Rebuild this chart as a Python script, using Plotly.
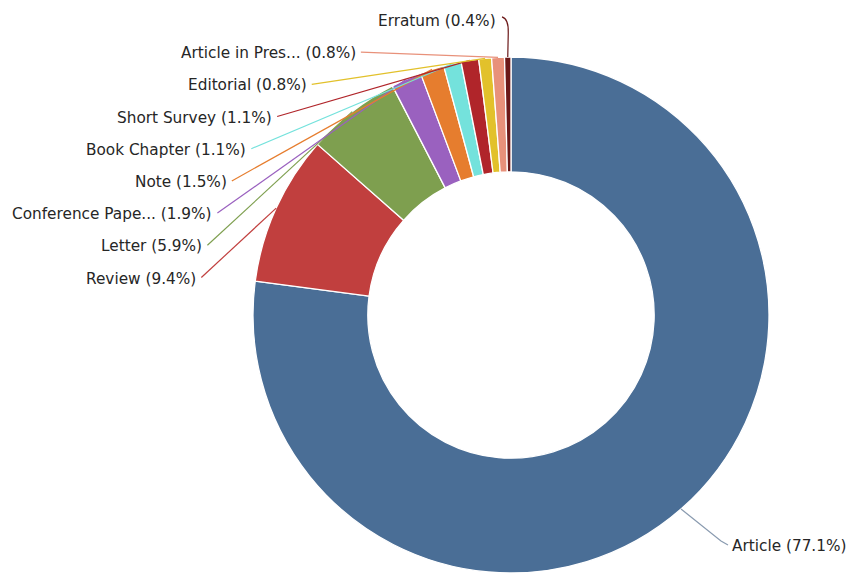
import math
import plotly.graph_objects as go

# ---- data ----
categories = ["Article", "Review", "Letter", "Conference Paper", "Note",
              "Book Chapter", "Short Survey", "Editorial", "Article in Press", "Erratum"]
display_names = ["Article", "Review", "Letter", "Conference Pape...", "Note",
                 "Book Chapter", "Short Survey", "Editorial", "Article in Pres...", "Erratum"]
shares = [77.1, 9.4, 5.9, 1.9, 1.5, 1.1, 1.1, 0.8, 0.8, 0.4]
colors = ["#4a6e96", "#c13f3e", "#7e9f4f", "#9a61bf", "#e67d2e",
          "#74e2dc", "#b0252a", "#e2c12b", "#e8917a", "#6b1818"]

# ---- layout constants (pixels) ----
W, H = 847, 573
CX, CY, R = 511.0, 315.0, 258.0
HOLE = 0.555
FONT = dict(family="DejaVu Sans", size=15.3, color="#262626")


def px(x):
    return x / W


def py(y):
    return 1 - y / H


fig = go.Figure(go.Pie(
    labels=categories, values=shares, sort=False, direction="clockwise",
    rotation=0, hole=HOLE, textinfo="none", textposition="none",
    marker=dict(colors=colors, line=dict(color="white", width=1.3)),
    domain=dict(x=[px(CX - R), px(CX + R)], y=[py(CY + R), py(CY - R)]),
    showlegend=False, hoverinfo="label+percent",
))

# slice mid points on outer edge
total = sum(shares)
cum = 0.0
edge_pts = []
for v in shares:
    mid = (cum + v / 2) / total * 2 * math.pi
    cum += v
    edge_pts.append((CX + R * math.sin(mid), CY - R * math.cos(mid)))

annotations = []
shapes = []

# left-side labels stacked from Review upward
A_ELL, B_ELL = 316.0, 300.0
STEP = 32.2
left_idx = list(range(1, len(shares)))
for k, i in enumerate(left_idx):
    ly = 278.5 - STEP * k
    dy = ly - CY
    if i == len(shares) - 1:
        ex = 497.0
    else:
        ex = CX - A_ELL * math.sqrt(max(0.0, 1 - (dy / B_ELL) ** 2))
    annotations.append(dict(
        x=px(ex), y=py(ly), xref="paper", yref="paper", xanchor="right",
        yanchor="middle", showarrow=False, font=FONT, borderpad=0,
        text=f"{display_names[i]} ({shares[i]:.1f}%)"))
    sx, sy = edge_pts[i]
    if i == len(shares) - 1:
        path = (f"M {px(ex + 5)},{py(ly - 4)} Q {px(sx + 1)},{py(ly - 2)} "
                f"{px(sx + 0.5)},{py(ly + 12)} L {px(sx)},{py(sy)}")
        shapes.append(dict(type="path", xref="paper", yref="paper", path=path,
                           line=dict(color=colors[i], width=1.2)))
    else:
        shapes.append(dict(type="line", xref="paper", yref="paper",
                           x0=px(ex + 4), y0=py(ly - 1), x1=px(sx), y1=py(sy),
                           line=dict(color=colors[i], width=1.2)))

# right-side label (Article)
lx, ly = 731.0, 546.0
annotations.append(dict(
    x=px(lx), y=py(ly), xref="paper", yref="paper", xanchor="left",
    yanchor="middle", showarrow=False, font=FONT, borderpad=0,
    text=f"{display_names[0]} ({shares[0]:.1f}%)"))
sx, sy = edge_pts[0]
path = f"M {px(sx)},{py(sy)} L {px(lx - 10)},{py(ly - 5)} L {px(lx - 3)},{py(ly - 1)}"
shapes.append(dict(type="path", xref="paper", yref="paper", path=path,
                   line=dict(color="#8a9bb0", width=1.2)))

fig.update_layout(
    width=W, height=H, margin=dict(l=0, r=0, t=0, b=0),
    paper_bgcolor="white", plot_bgcolor="white",
    annotations=annotations, shapes=shapes,
)

fig.write_html("out.html")
